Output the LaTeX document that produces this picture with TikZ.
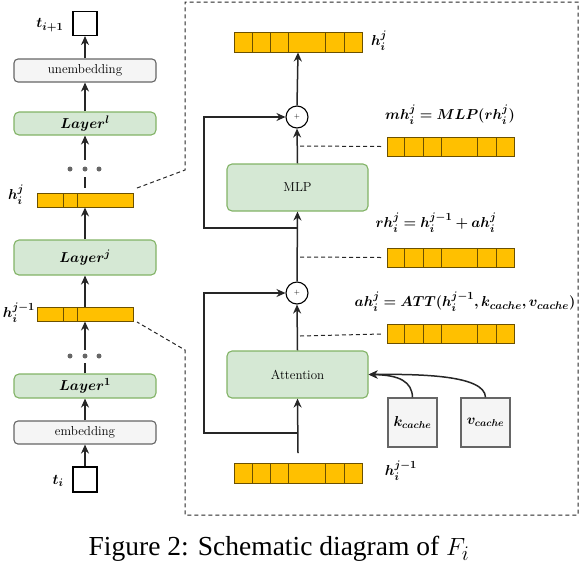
\documentclass[tikz,border=0pt]{standalone}
\usepackage{fontspec}
\usepackage{amsmath}
\usepackage{bm}
\usetikzlibrary{arrows.meta,calc}
\newfontfamily\capfont{Liberation Serif}
\definecolor{ybarfill}{HTML}{FFC000}
\definecolor{ybarline}{HTML}{6B5000}
\definecolor{gfill}{HTML}{D5E8D4}
\definecolor{gline}{HTML}{82B366}
\definecolor{lgfill}{HTML}{F5F5F5}
\definecolor{lgline}{HTML}{666666}
\definecolor{dotc}{HTML}{666666}
\tikzset{
  ybar/.style={draw=ybarline, fill=ybarfill, line width=0.9pt, inner sep=0pt, rectangle},
  greenbox/.style={draw=gline, fill=gfill, line width=1.1pt, rounded corners=5pt, inner sep=0pt, minimum width=142pt},
  graybox/.style={draw=lgline, fill=lgfill, line width=1.1pt, rounded corners=4pt, inner sep=0pt, minimum width=142pt, minimum height=23pt},
  tokbox/.style={draw=black, fill=white, line width=1.1pt, inner sep=0pt, minimum width=24pt, minimum height=24pt},
  cachebox/.style={draw=lgline, fill=lgfill, line width=1.4pt, inner sep=0pt, minimum width=49pt, minimum height=49pt},
  arr/.style={line width=1.5pt, draw=black!85, -{Stealth[length=9pt,width=8pt]}},
  plain/.style={line width=1.5pt, draw=black!85},
  dsh/.style={line width=1pt, dashed, dash pattern=on 4pt off 3pt, draw=black!85},
  pluscirc/.style={circle, draw=black, fill=white, line width=1.1pt, minimum size=22pt, inner sep=0pt},
  lbl/.style={inner sep=0pt, font=\fontsize{15}{17}\selectfont},
  boxtxt/.style={font=\fontsize{13}{15}\selectfont},
  laytxt/.style={font=\fontsize{15.5}{17}\selectfont},
  gdot/.style={circle, fill=dotc, minimum size=5pt, inner sep=0pt},
}
\newcommand\splitbar[2]{%
  \foreach \f in {#2}{
    \draw[ybarline, line width=0.9pt] ($(#1.south west)!\f!(#1.south east)$) -- ($(#1.north west)!\f!(#1.north east)$);
  }}
\begin{document}
\begin{tikzpicture}[x=1pt,y=-1pt]
\useasboundingbox (0,0) rectangle (580,566);

% ---------- left column ----------
\node[tokbox] (tout) at (85,23.5) {};
\node[lbl] (toutl) at (50,25) {$\bm{t_{i+1}}$};
\node[graybox, boxtxt] (unemb) at (85,70.5) {unembedding};
\node[greenbox, minimum height=23pt, laytxt] (layl) at (85,123.5) {$\bm{Layer^l}$};
\node[gdot] (d1) at (70,169) {};
\node[gdot] (d2) at (85,169) {};
\node[gdot] (d3) at (99,169) {};
\node[ybar, minimum width=96pt, minimum height=14pt] (hjl) at (85,200) {};
\splitbar{hjl}{0.281,0.427}
\node[lbl] (hjll) at (16,195) {$\bm{h_i^j}$};
\node[greenbox, minimum height=35pt, laytxt] (layj) at (85,257.5) {$\bm{Layer^j}$};
\node[ybar, minimum width=96pt, minimum height=14pt] (hj1l) at (85,314) {};
\splitbar{hj1l}{0.281,0.427}
\node[lbl] (hj1ll) at (19,313) {$\bm{h_i^{j-1}}$};
\node[gdot] (e1) at (70,356) {};
\node[gdot] (e2) at (85,356) {};
\node[gdot] (e3) at (99,356) {};
\node[greenbox, minimum height=24pt, laytxt] (lay1) at (85,386) {$\bm{Layer^1}$};
\node[graybox, boxtxt] (emb) at (85,432.5) {embedding};
\node[tokbox, minimum height=25pt] (tin) at (85,479.5) {};
\node[lbl] (tinl) at (58,481) {$\bm{t_i}$};

\draw[arr] (unemb.north) -- (tout.south);
\draw[arr] (layl.north) -- (unemb.south);
\coordinate (dtop) at (85,160);
\coordinate (dbot) at (85,177);
\draw[arr] (dtop) -- (layl.south);
\draw[plain] ([yshift=5pt]hjl.north) -- (dbot);
\draw[arr] (layj.north) -- (hjl.south);
\draw[arr] (hj1l.north) -- (layj.south);
\coordinate (etop) at (85,350);
\coordinate (ebot) at (85,363);
\draw[arr] (etop) -- (hj1l.south);
\draw[plain] (lay1.north) -- (ebot);
\draw[arr] (emb.north) -- (lay1.south);
\draw[arr] (tin.north) -- (emb.south);

% ---------- zoom frame ----------
\coordinate (z1) at (137,188);
\coordinate (z2) at (137,322);
\coordinate (fa) at (185,170);
\coordinate (fb) at (185,2);
\coordinate (fc) at (578,2);
\coordinate (fd) at (578,515);
\coordinate (fe) at (185,515);
\coordinate (ff) at (185,350);
\draw[dsh] (z1) -- (fa) -- (fb) -- (fc) -- (fd) -- (fe) -- (ff) -- (z2);

% ---------- right panel ----------
\node[ybar, minimum width=128pt, minimum height=20pt] (htop) at (298,42) {};
\splitbar{htop}{1/7,2/7,3/7,5/7,6/7}
\node[lbl] (htopl) at (379,41) {$\bm{h_i^j}$};
\node[pluscirc] (c1) at (297,117) {\scriptsize$+$};
\node[greenbox, minimum width=141pt, minimum height=47pt, boxtxt] (mlp) at (297.5,187.5) {MLP};
\node[pluscirc] (c2) at (297,293) {\scriptsize$+$};
\node[greenbox, minimum width=141pt, minimum height=47pt, boxtxt] (att) at (297.5,374.5) {Attention};
\node[ybar, minimum width=128pt, minimum height=20pt] (hbot) at (298,473.5) {};
\splitbar{hbot}{1/7,2/7,3/7,5/7,6/7}
\node[lbl] (hbotl) at (401,471) {$\bm{h_i^{j-1}}$};

\node[ybar, minimum width=127pt, minimum height=19pt] (mh) at (450.5,146.5) {};
\splitbar{mh}{1/7,2/7,3/7,5/7,6/7}
\node[lbl] (mhl) at (450,115) {$\bm{mh_i^j = MLP(rh_i^j)}$};
\node[ybar, minimum width=127pt, minimum height=19pt] (rh) at (450.5,257.5) {};
\splitbar{rh}{1/7,2/7,3/7,5/7,6/7}
\node[lbl] (rhl) at (436,223) {$\bm{rh_i^j = h_i^{j-1} + ah_i^j}$};
\node[ybar, minimum width=127pt, minimum height=19pt] (ah) at (450.5,334) {};
\splitbar{ah}{1/7,2/7,3/7,5/7,6/7}
\node[lbl] (ahl) at (465,302) {$\bm{ah_i^j = ATT(h_i^{j-1}, k_{cache}, v_{cache})}$};

\node[cachebox] (kc) at (412.5,422.5) {\fontsize{14}{16}\selectfont$\bm{k_{cache}}$};
\node[cachebox] (vc) at (485.5,422.5) {\fontsize{14}{16}\selectfont$\bm{v_{cache}}$};

\draw[arr] (c1.north) -- (htop.south);
\draw[arr] (mlp.north) -- (c1.south);
\draw[arr] (c2.north) -- (mlp.south);
\draw[arr] (att.north) -- (c2.south);
\draw[arr] ([yshift=10pt]hbot.north) -- (att.south);
\coordinate (s1) at (297,228);
\coordinate (s2) at (297,433);
\draw[arr] (s1) -- (204,228) |- (c1.west);
\draw[arr] (s2) -- (204,433) |- (c2.west);
\coordinate (m1) at (300,146);
\coordinate (m2) at (300,257);
\coordinate (m3) at (300,336);
\draw[dsh] (m1) -- ([xshift=-5pt]mh.west);
\draw[dsh] (m2) -- ([xshift=-5pt]rh.west);
\draw[dsh] (m3) -- ([xshift=-5pt]ah.west);
\draw[arr] (kc.north) .. controls (412,382) and (400,375) .. (att.east);
\draw[arr] (vc.north) .. controls (485,375) and (420,374) .. (att.east);

% ---------- caption ----------
\node[inner sep=0pt, font=\capfont\fontsize{27.5}{30}\selectfont] (cap) at (279,549) {Figure 2: Schematic diagram of $F_i$};
\end{tikzpicture}
\end{document}
